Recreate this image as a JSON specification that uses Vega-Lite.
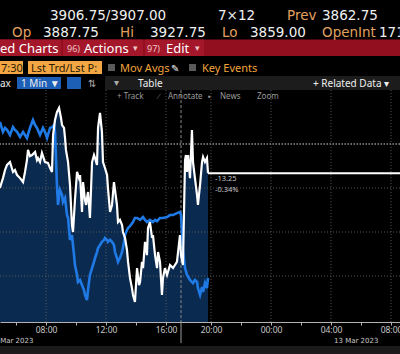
{
  "$schema": "https://vega.github.io/schema/vega-lite/v6.json",
  "width": 400,
  "height": 322,
  "padding": {"left": 0, "right": 0, "top": 0, "bottom": 32},
  "autosize": {"type": "none"},
  "background": "#000000",
  "config": {"view": {"stroke": null}},
  "datasets": {
    "es": [
      {"t":-3.07,"price":3900.0},{"t":-2.87,"price":3904.5},{"t":-2.73,"price":3908.2},{"t":-2.6,"price":3910.5},
      {"t":-2.4,"price":3911.8},{"t":-2.2,"price":3907.3},{"t":-2.07,"price":3908.2},{"t":-1.93,"price":3905.9},
      {"t":-1.73,"price":3904.5},{"t":-1.53,"price":3902.7},{"t":-1.4,"price":3907.3},{"t":-1.27,"price":3912.7},
      {"t":-1.2,"price":3917.3},{"t":-1.07,"price":3914.5},{"t":-0.93,"price":3915.0},{"t":-0.73,"price":3916.4},
      {"t":-0.6,"price":3912.7},{"t":-0.53,"price":3913.6},{"t":-0.4,"price":3911.8},{"t":-0.27,"price":3915.9},
      {"t":-0.07,"price":3911.8},{"t":0.13,"price":3911.4},{"t":0.27,"price":3909.1},{"t":0.4,"price":3907.3},
      {"t":0.47,"price":3924.1},{"t":0.6,"price":3930.9},{"t":0.73,"price":3934.5},{"t":0.87,"price":3936.4},
      {"t":1.0,"price":3931.8},{"t":1.07,"price":3928.6},{"t":1.2,"price":3927.3},{"t":1.27,"price":3922.7},
      {"t":1.33,"price":3917.3},{"t":1.47,"price":3911.8},{"t":1.6,"price":3901.4},{"t":1.73,"price":3883.2},
      {"t":1.8,"price":3880.0},{"t":1.93,"price":3894.5},{"t":2.07,"price":3907.3},{"t":2.2,"price":3904.5},
      {"t":2.27,"price":3905.9},{"t":2.4,"price":3889.1},{"t":2.47,"price":3902.7},{"t":2.6,"price":3894.5},
      {"t":2.67,"price":3892.3},{"t":2.8,"price":3898.2},{"t":2.93,"price":3886.4},{"t":3.07,"price":3911.8},
      {"t":3.2,"price":3915.0},{"t":3.27,"price":3913.6},{"t":3.4,"price":3910.5},{"t":3.47,"price":3927.3},
      {"t":3.6,"price":3934.1},{"t":3.73,"price":3925.5},{"t":3.8,"price":3911.8},{"t":3.93,"price":3909.1},
      {"t":4.07,"price":3905.9},{"t":4.13,"price":3900.0},{"t":4.27,"price":3889.1},{"t":4.4,"price":3892.3},
      {"t":4.53,"price":3902.7},{"t":4.6,"price":3899.1},{"t":4.73,"price":3892.3},{"t":4.8,"price":3884.5},
      {"t":4.93,"price":3885.5},{"t":5.07,"price":3883.2},{"t":5.13,"price":3880.0},{"t":5.27,"price":3877.3},
      {"t":5.4,"price":3871.8},{"t":5.47,"price":3866.4},{"t":5.6,"price":3859.1},{"t":5.73,"price":3854.5},
      {"t":5.8,"price":3851.4},{"t":5.93,"price":3848.2},{"t":6.07,"price":3863.6},{"t":6.2,"price":3855.9},
      {"t":6.27,"price":3857.3},{"t":6.4,"price":3866.4},{"t":6.47,"price":3863.6},{"t":6.6,"price":3875.5},
      {"t":6.73,"price":3869.5},{"t":6.8,"price":3881.8},{"t":6.93,"price":3884.5},{"t":7.07,"price":3877.3},
      {"t":7.13,"price":3878.6},{"t":7.27,"price":3869.5},{"t":7.4,"price":3863.6},{"t":7.47,"price":3870.9},
      {"t":7.6,"price":3866.4},{"t":7.73,"price":3851.4},{"t":7.8,"price":3859.1},{"t":7.93,"price":3863.6},
      {"t":8.07,"price":3860.5},{"t":8.27,"price":3865.0},{"t":8.47,"price":3863.6},{"t":8.73,"price":3866.4},
      {"t":8.93,"price":3878.6},{"t":9.0,"price":3869.5},{"t":9.13,"price":3865.0},{"t":9.27,"price":3912.7},
      {"t":9.33,"price":3915.0},{"t":9.4,"price":3907.3},{"t":9.47,"price":3915.0},{"t":9.6,"price":3904.5},
      {"t":9.73,"price":3926.4},{"t":9.8,"price":3911.8},{"t":9.93,"price":3904.5},{"t":10.07,"price":3896.8},
      {"t":10.13,"price":3892.3},{"t":10.27,"price":3901.4},{"t":10.4,"price":3911.8},{"t":10.47,"price":3914.1},
      {"t":10.6,"price":3911.8},{"t":10.73,"price":3913.6},{"t":10.8,"price":3906.75}
    ],
    "cmp": [
      {"t":-3.07,"price":3930.0},{"t":-2.87,"price":3925.5},{"t":-2.73,"price":3927.3},{"t":-2.6,"price":3926.4},
      {"t":-2.4,"price":3924.1},{"t":-2.2,"price":3927.7},{"t":-2.07,"price":3926.4},{"t":-1.93,"price":3925.5},
      {"t":-1.73,"price":3923.2},{"t":-1.53,"price":3925.5},{"t":-1.4,"price":3924.1},{"t":-1.27,"price":3922.7},
      {"t":-1.07,"price":3927.3},{"t":-0.87,"price":3930.9},{"t":-0.73,"price":3928.6},{"t":-0.6,"price":3927.3},
      {"t":-0.4,"price":3924.1},{"t":-0.2,"price":3927.3},{"t":-0.07,"price":3925.5},{"t":0.07,"price":3922.7},
      {"t":0.27,"price":3927.3},{"t":0.4,"price":3927.7},{"t":0.53,"price":3928.6},{"t":0.6,"price":3925.5},
      {"t":0.67,"price":3912.7},{"t":0.73,"price":3901.4},{"t":0.8,"price":3892.3},{"t":0.93,"price":3899.1},
      {"t":1.07,"price":3896.8},{"t":1.13,"price":3893.6},{"t":1.27,"price":3895.5},{"t":1.4,"price":3887.7},
      {"t":1.47,"price":3886.4},{"t":1.6,"price":3876.4},{"t":1.73,"price":3878.6},{"t":1.87,"price":3869.5},
      {"t":1.93,"price":3865.0},{"t":2.07,"price":3860.5},{"t":2.13,"price":3857.3},{"t":2.27,"price":3858.2},
      {"t":2.4,"price":3855.9},{"t":2.53,"price":3853.6},{"t":2.6,"price":3851.4},{"t":2.73,"price":3849.1},
      {"t":2.8,"price":3853.6},{"t":2.93,"price":3860.5},{"t":3.07,"price":3863.6},{"t":3.2,"price":3866.4},
      {"t":3.27,"price":3868.2},{"t":3.4,"price":3870.9},{"t":3.47,"price":3872.7},{"t":3.6,"price":3874.1},
      {"t":3.73,"price":3875.5},{"t":3.87,"price":3876.4},{"t":3.93,"price":3877.3},{"t":4.07,"price":3876.4},
      {"t":4.13,"price":3875.5},{"t":4.27,"price":3876.4},{"t":4.4,"price":3875.5},{"t":4.53,"price":3874.1},
      {"t":4.6,"price":3870.9},{"t":4.73,"price":3868.2},{"t":4.8,"price":3866.4},{"t":4.93,"price":3868.2},
      {"t":5.07,"price":3870.9},{"t":5.2,"price":3875.5},{"t":5.27,"price":3878.6},{"t":5.4,"price":3880.9},
      {"t":5.47,"price":3881.8},{"t":5.6,"price":3882.7},{"t":5.8,"price":3884.5},{"t":5.93,"price":3886.4},
      {"t":6.07,"price":3886.4},{"t":6.27,"price":3885.5},{"t":6.47,"price":3886.8},{"t":6.6,"price":3885.5},
      {"t":6.73,"price":3884.5},{"t":6.93,"price":3885.5},{"t":7.13,"price":3884.5},{"t":7.27,"price":3885.5},
      {"t":7.4,"price":3884.9},{"t":7.6,"price":3886.4},{"t":7.8,"price":3886.4},{"t":8.07,"price":3886.8},
      {"t":8.27,"price":3887.7},{"t":8.47,"price":3887.7},{"t":8.73,"price":3888.6},{"t":8.93,"price":3889.1},
      {"t":9.0,"price":3887.7},{"t":9.13,"price":3871.8},{"t":9.27,"price":3863.6},{"t":9.4,"price":3860.5},
      {"t":9.6,"price":3858.2},{"t":9.8,"price":3856.8},{"t":9.93,"price":3858.2},{"t":10.07,"price":3857.3},
      {"t":10.13,"price":3854.5},{"t":10.27,"price":3851.4},{"t":10.4,"price":3855.0},{"t":10.47,"price":3852.7},
      {"t":10.6,"price":3856.8},{"t":10.73,"price":3854.5},{"t":10.8,"price":3859.1}
    ]
  },
  "layer": [
    {
      "data": {"name": "es"},
      "mark": {"type": "area", "color": "#0b2a4f"},
      "encoding": {
        "x": {"field": "t", "type": "quantitative", "scale": {"domain": [-3.0667, 23.6], "nice": false, "zero": false}, "axis": null},
        "y": {"field": "price", "type": "quantitative", "scale": {"domain": [3839.1, 3985.45], "nice": false, "zero": false}, "axis": null},
        "y2": {"datum": 3839.1}
      }
    },
    {
      "data": {"values": [{"level": 3860}, {"level": 3880}, {"level": 3900}]},
      "mark": {"type": "rule", "color": "#585858", "strokeDash": [1, 2], "strokeWidth": 1},
      "encoding": {"y": {"field": "level", "type": "quantitative", "scale": {"domain": [3839.1, 3985.45], "nice": false, "zero": false}, "axis": null}}
    },
    {
      "data": {"values": [{"level": 3920}]},
      "mark": {"type": "rule", "color": "#d8d8d8", "strokeDash": [1.5, 1.5], "strokeWidth": 1},
      "encoding": {"y": {"field": "level", "type": "quantitative", "scale": {"domain": [3839.1, 3985.45], "nice": false, "zero": false}, "axis": null}}
    },
    {
      "data": {"values": [{"tick": 0}, {"tick": 4}, {"tick": 8}, {"tick": 11}, {"tick": 15}, {"tick": 19}, {"tick": 23}]},
      "mark": {"type": "rule", "color": "#585858", "strokeDash": [1, 2], "strokeWidth": 1},
      "encoding": {
        "x": {"field": "tick", "type": "quantitative", "scale": {"domain": [-3.0667, 23.6], "nice": false, "zero": false}, "axis": null},
        "y": {"datum": 3944.5, "type": "quantitative", "scale": {"domain": [3839.1, 3985.45], "nice": false, "zero": false}, "axis": null},
        "y2": {"datum": 3839.1}
      }
    },
    {
      "data": {"values": [{"tick": 9}]},
      "mark": {"type": "rule", "color": "#8a8a8a", "strokeDash": [3, 2], "strokeWidth": 1},
      "encoding": {
        "x": {"field": "tick", "type": "quantitative", "scale": {"domain": [-3.0667, 23.6], "nice": false, "zero": false}, "axis": null},
        "y": {"datum": 3944.5, "type": "quantitative", "scale": {"domain": [3839.1, 3985.45], "nice": false, "zero": false}, "axis": null},
        "y2": {"datum": 3839.1}
      }
    },
    {
      "data": {"values": [{"tick": 9}]},
      "mark": {"type": "rule", "color": "#9a9a9a", "strokeWidth": 1},
      "encoding": {
        "x": {"field": "tick", "type": "quantitative", "scale": {"domain": [-3.0667, 23.6], "nice": false, "zero": false}, "axis": null},
        "y": {"datum": 3839.1, "type": "quantitative", "scale": {"domain": [3839.1, 3985.45], "nice": false, "zero": false}, "axis": null},
        "y2": {"datum": 3829.5}
      }
    },
    {
      "data": {"name": "cmp"},
      "mark": {"type": "line", "color": "#1f7ae6", "strokeWidth": 2.6},
      "encoding": {
        "x": {"field": "t", "type": "quantitative", "scale": {"domain": [-3.0667, 23.6], "nice": false, "zero": false}, "axis": null},
        "y": {"field": "price", "type": "quantitative", "scale": {"domain": [3839.1, 3985.45], "nice": false, "zero": false}, "axis": null}
      }
    },
    {
      "data": {"name": "es"},
      "mark": {"type": "line", "color": "#ffffff", "strokeWidth": 2.2},
      "encoding": {
        "x": {"field": "t", "type": "quantitative", "scale": {"domain": [-3.0667, 23.6], "nice": false, "zero": false},
          "axis": {"orient": "bottom", "values": [-2,0,2,4,6,8,11,13,15,17,19,21,23], "title": null, "grid": false,
            "labelExpr": "datum.value == 0 || datum.value == 23 ? '08:00' : datum.value == 4 ? '12:00' : datum.value == 8 ? '16:00' : datum.value == 11 ? '20:00' : datum.value == 15 ? '00:00' : datum.value == 19 ? '04:00' : ''",
            "domainColor": "#b4b4b4", "tickColor": "#b4b4b4", "tickSize": 3, "labelPadding": 0,
            "labelColor": "#c8c8c8", "labelFont": "Noto Sans", "labelFontSize": 8.5,
            "labelFlush": false, "labelOverlap": false, "labelBound": false}},
        "y": {"field": "price", "type": "quantitative", "scale": {"domain": [3839.1, 3985.45], "nice": false, "zero": false}, "axis": null}
      }
    },
    {
      "data": {"values": [{"from": 10.8, "to": 23.6, "last": 3906.75}]},
      "mark": {"type": "rule", "color": "#ffffff", "strokeWidth": 2},
      "encoding": {
        "x": {"field": "from", "type": "quantitative", "scale": {"domain": [-3.0667, 23.6], "nice": false, "zero": false}, "axis": null},
        "x2": {"field": "to"},
        "y": {"field": "last", "type": "quantitative", "scale": {"domain": [3839.1, 3985.45], "nice": false, "zero": false}, "axis": null}
      }
    },
    {
      "data": {"values": [{"t": 11.27, "price": 3904.1, "label": "-13.25"}, {"t": 11.27, "price": 3899.3, "label": "-0.34%"}]},
      "mark": {"type": "text", "align": "left", "baseline": "middle", "font": "Noto Sans", "fontSize": 7.5, "color": "#c8c8c8"},
      "encoding": {
        "x": {"field": "t", "type": "quantitative", "scale": {"domain": [-3.0667, 23.6], "nice": false, "zero": false}, "axis": null},
        "y": {"field": "price", "type": "quantitative", "scale": {"domain": [3839.1, 3985.45], "nice": false, "zero": false}, "axis": null},
        "text": {"field": "label"}
      }
    },
    {
      "data": {"values": [{"t": -4.0, "label": "10 Mar 2023"}, {"t": 19.0, "label": "13 Mar 2023"}]},
      "mark": {"type": "text", "align": "left", "baseline": "middle", "dx": 3, "font": "DejaVu Sans", "fontSize": 7, "color": "#c8c8c8"},
      "encoding": {
        "x": {"field": "t", "type": "quantitative", "scale": {"domain": [-3.0667, 23.6], "nice": false, "zero": false}, "axis": null},
        "y": {"datum": 3830.55, "type": "quantitative", "scale": {"domain": [3839.1, 3985.45], "nice": false, "zero": false}, "axis": null},
        "text": {"field": "label"}
      }
    },
    {
      "data": {"values": [
        {"part": "redbase", "x0": 0, "x1": 400, "y0": 39.5, "y1": 56},
        {"part": "redseg", "x0": 0, "x1": 61, "y0": 39.5, "y1": 56},
        {"part": "redseg", "x0": 63, "x1": 143, "y0": 39.5, "y1": 56},
        {"part": "redseg", "x0": 145, "x1": 204, "y0": 39.5, "y1": 56},
        {"part": "orange", "x0": 0, "x1": 23, "y0": 61, "y1": 74},
        {"part": "orange", "x0": 28, "x1": 102, "y0": 61, "y1": 74},
        {"part": "check", "x0": 108, "x1": 115, "y0": 64, "y1": 71},
        {"part": "check", "x0": 189, "x1": 196, "y0": 64, "y1": 71},
        {"part": "toolbar", "x0": 105, "x1": 400, "y0": 76, "y1": 90},
        {"part": "bluebtn", "x0": 17, "x1": 61, "y0": 77, "y1": 89},
        {"part": "bluebtn", "x0": 67, "x1": 81, "y0": 77, "y1": 89},
        {"part": "strip", "x0": 0, "x1": 400, "y0": 346, "y1": 354}
      ]},
      "mark": {"type": "rect"},
      "encoding": {
        "x": {"field": "x0", "type": "quantitative", "scale": {"domain": [0, 400], "nice": false, "zero": false}, "axis": null},
        "x2": {"field": "x1"},
        "y": {"field": "y0", "type": "quantitative", "scale": {"domain": [0, 322], "reverse": true, "nice": false, "zero": false}, "axis": null},
        "y2": {"field": "y1"},
        "color": {"field": "part", "type": "nominal", "legend": null,
          "scale": {"domain": ["redbase", "redseg", "orange", "check", "toolbar", "bluebtn", "strip"],
                    "range": ["#920f1f", "#a4172a", "#f2a744", "#5a5a5a", "#1c1c1c", "#1d5fb6", "#1a1a1a"]}}
      }
    },
    {
      "data": {"values": [
        {"hx": 50, "hy": 20, "label": "3906.75/3907.00"}, {"hx": 218, "hy": 20, "label": "7×12"},
        {"hx": 322, "hy": 20, "label": "3862.75"}, {"hx": 43, "hy": 37, "label": "3887.75"},
        {"hx": 150, "hy": 37, "label": "3927.75"}, {"hx": 250, "hy": 37, "label": "3859.00"},
        {"hx": 379, "hy": 37, "label": "171"}
      ]},
      "mark": {"type": "text", "align": "left", "baseline": "alphabetic", "font": "DejaVu Sans", "fontSize": 13.5, "color": "#f0f0f0"},
      "encoding": {
        "x": {"field": "hx", "type": "quantitative", "scale": {"domain": [0, 400], "nice": false, "zero": false}, "axis": null},
        "y": {"field": "hy", "type": "quantitative", "scale": {"domain": [0, 322], "reverse": true, "nice": false, "zero": false}, "axis": null},
        "text": {"field": "label"}
      }
    },
    {
      "data": {"values": [
        {"hx": 287, "hy": 20, "label": "Prev"}, {"hx": 12, "hy": 37, "label": "Op"},
        {"hx": 120, "hy": 37, "label": "Hi"}, {"hx": 222, "hy": 37, "label": "Lo"},
        {"hx": 322, "hy": 37, "label": "OpenInt"}
      ]},
      "mark": {"type": "text", "align": "left", "baseline": "alphabetic", "font": "DejaVu Sans", "fontSize": 13.5, "color": "#e0a060"},
      "encoding": {
        "x": {"field": "hx", "type": "quantitative", "scale": {"domain": [0, 400], "nice": false, "zero": false}, "axis": null},
        "y": {"field": "hy", "type": "quantitative", "scale": {"domain": [0, 322], "reverse": true, "nice": false, "zero": false}, "axis": null},
        "text": {"field": "label"}
      }
    },
    {
      "data": {"values": [
        {"hx": 0, "hy": 52.5, "label": "ed Charts"}, {"hx": 84, "hy": 52.5, "label": "Actions"},
        {"hx": 166, "hy": 52.5, "label": "Edit"}
      ]},
      "mark": {"type": "text", "align": "left", "baseline": "alphabetic", "font": "Noto Sans", "fontSize": 13, "color": "#ffffff"},
      "encoding": {
        "x": {"field": "hx", "type": "quantitative", "scale": {"domain": [0, 400], "nice": false, "zero": false}, "axis": null},
        "y": {"field": "hy", "type": "quantitative", "scale": {"domain": [0, 322], "reverse": true, "nice": false, "zero": false}, "axis": null},
        "text": {"field": "label"}
      }
    },
    {
      "data": {"values": [
        {"hx": 67, "hy": 52, "label": "96)"}, {"hx": 147, "hy": 52, "label": "97)"},
        {"hx": 133, "hy": 51, "label": "▾"}, {"hx": 195, "hy": 51, "label": "▾"}
      ]},
      "mark": {"type": "text", "align": "left", "baseline": "alphabetic", "font": "Noto Sans", "fontSize": 9, "color": "#ecc4c4"},
      "encoding": {
        "x": {"field": "hx", "type": "quantitative", "scale": {"domain": [0, 400], "nice": false, "zero": false}, "axis": null},
        "y": {"field": "hy", "type": "quantitative", "scale": {"domain": [0, 322], "reverse": true, "nice": false, "zero": false}, "axis": null},
        "text": {"field": "label"}
      }
    },
    {
      "data": {"values": [
        {"hx": 1, "hy": 71.5, "label": "7:30"}, {"hx": 31, "hy": 71.5, "label": "Lst Trd/Lst P:"}
      ]},
      "mark": {"type": "text", "align": "left", "baseline": "alphabetic", "font": "Noto Sans", "fontSize": 11, "color": "#2a1a00"},
      "encoding": {
        "x": {"field": "hx", "type": "quantitative", "scale": {"domain": [0, 400], "nice": false, "zero": false}, "axis": null},
        "y": {"field": "hy", "type": "quantitative", "scale": {"domain": [0, 322], "reverse": true, "nice": false, "zero": false}, "axis": null},
        "text": {"field": "label"}
      }
    },
    {
      "data": {"values": [
        {"hx": 120, "hy": 72, "label": "Mov Avgs"}, {"hx": 202, "hy": 72, "label": "Key Events"}
      ]},
      "mark": {"type": "text", "align": "left", "baseline": "alphabetic", "font": "Noto Sans", "fontSize": 11, "color": "#f0a43c"},
      "encoding": {
        "x": {"field": "hx", "type": "quantitative", "scale": {"domain": [0, 400], "nice": false, "zero": false}, "axis": null},
        "y": {"field": "hy", "type": "quantitative", "scale": {"domain": [0, 322], "reverse": true, "nice": false, "zero": false}, "axis": null},
        "text": {"field": "label"}
      }
    },
    {
      "data": {"values": [
        {"hx": 0, "hy": 86.5, "label": "ax"}, {"hx": 21, "hy": 86.5, "label": "1 Min ▼"},
        {"hx": 138, "hy": 86.5, "label": "Table"}, {"hx": 313, "hy": 86.5, "label": "+ Related Data ▾"},
        {"hx": 171, "hy": 72, "label": "✎"}
      ]},
      "mark": {"type": "text", "align": "left", "baseline": "alphabetic", "font": "Noto Sans", "fontSize": 10, "color": "#eeeeee"},
      "encoding": {
        "x": {"field": "hx", "type": "quantitative", "scale": {"domain": [0, 400], "nice": false, "zero": false}, "axis": null},
        "y": {"field": "hy", "type": "quantitative", "scale": {"domain": [0, 322], "reverse": true, "nice": false, "zero": false}, "axis": null},
        "text": {"field": "label"}
      }
    },
    {
      "data": {"values": [
        {"hx": 88, "hy": 87, "label": "⇅"}, {"hx": 114, "hy": 86, "label": "▾"}
      ]},
      "mark": {"type": "text", "align": "left", "baseline": "alphabetic", "font": "DejaVu Sans", "fontSize": 10, "color": "#aaaaaa"},
      "encoding": {
        "x": {"field": "hx", "type": "quantitative", "scale": {"domain": [0, 400], "nice": false, "zero": false}, "axis": null},
        "y": {"field": "hy", "type": "quantitative", "scale": {"domain": [0, 322], "reverse": true, "nice": false, "zero": false}, "axis": null},
        "text": {"field": "label"}
      }
    },
    {
      "data": {"values": [
        {"hx": 117, "hy": 98.5, "label": "+ Track"}, {"hx": 158, "hy": 98.5, "label": "∕"},
        {"hx": 168, "hy": 98.5, "label": "Annotate"}, {"hx": 208, "hy": 98.5, "label": "▪"},
        {"hx": 220, "hy": 98.5, "label": "News"}, {"hx": 257, "hy": 98.5, "label": "Zoom"}
      ]},
      "mark": {"type": "text", "align": "left", "baseline": "alphabetic", "font": "Noto Sans", "fontSize": 8, "color": "#9a9a9a"},
      "encoding": {
        "x": {"field": "hx", "type": "quantitative", "scale": {"domain": [0, 400], "nice": false, "zero": false}, "axis": null},
        "y": {"field": "hy", "type": "quantitative", "scale": {"domain": [0, 322], "reverse": true, "nice": false, "zero": false}, "axis": null},
        "text": {"field": "label"}
      }
    }
  ],
  "resolve": {"scale": {"x": "independent", "y": "independent"}}
}
